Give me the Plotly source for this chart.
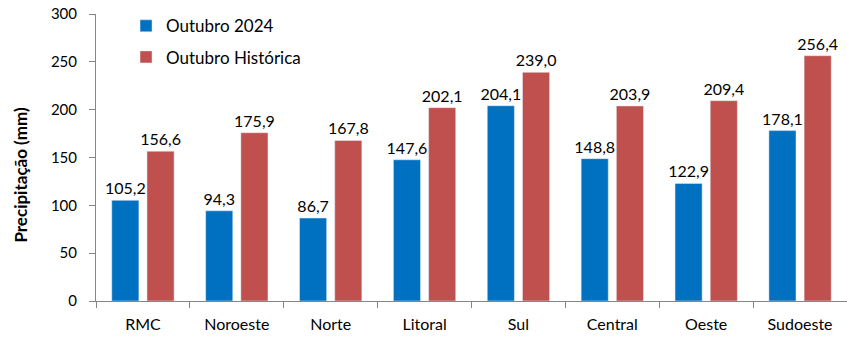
import plotly.graph_objects as go

regioes = ["RMC", "Noroeste", "Norte", "Litoral", "Sul", "Central", "Oeste", "Sudoeste"]
outubro_2024 = [105.2, 94.3, 86.7, 147.6, 204.1, 148.8, 122.9, 178.1]
outubro_historica = [156.6, 175.9, 167.8, 202.1, 239.0, 203.9, 209.4, 256.4]
y_ticks = [0, 50, 100, 150, 200, 250, 300]

FONT = "Lato"
AXIS_COLOR = "#868686"

fig = go.Figure()
for nome, valores, cor, grupo in [
    ("Outubro 2024", outubro_2024, "#0070C0", "a"),
    ("Outubro Histórica", outubro_historica, "#C0504D", "b"),
]:
    fig.add_trace(go.Bar(
        x=regioes, y=valores, name=nome,
        marker_color=cor, legendgroup=grupo,
        texttemplate="%{y:.1f}", textposition="outside",
        constraintext="none",
        textfont=dict(family=FONT, size=16, color="#000000"),
        cliponaxis=False,
    ))

fig.update_layout(
    width=847, height=338,
    margin=dict(l=96, r=0, t=14, b=37),
    paper_bgcolor="white", plot_bgcolor="white",
    separators=",.",
    barmode="group", bargap=0.25, bargroupgap=0.23,
    font=dict(family=FONT, size=16, color="#000000"),
    showlegend=True,
    legend=dict(
        x=0.04, y=1.02, xanchor="left", yanchor="top",
        font=dict(family=FONT, size=17),
        tracegroupgap=6, bgcolor="rgba(0,0,0,0)",
    ),
    xaxis=dict(
        showline=True, linecolor=AXIS_COLOR, linewidth=1,
        ticks="outside", tickson="boundaries", ticklen=6, tickcolor=AXIS_COLOR,
        tickfont=dict(family=FONT, size=16),
        ticklabelstandoff=9,
        showgrid=False,
    ),
    yaxis=dict(
        range=[0, 300], tickvals=y_ticks,
        showline=True, linecolor=AXIS_COLOR, linewidth=1,
        ticks="outside", ticklen=6, tickcolor=AXIS_COLOR,
        tickfont=dict(family=FONT, size=15),
        ticklabelstandoff=9,
        showgrid=False, zeroline=False,
    ),
    annotations=[dict(
        text="<b>Precipitação (mm)</b>", textangle=-90,
        xref="paper", yref="paper", x=-0.1, y=0.44,
        xanchor="center", yanchor="middle", showarrow=False,
        font=dict(family=FONT, size=17),
    )],
)

fig.write_html("out.html")
